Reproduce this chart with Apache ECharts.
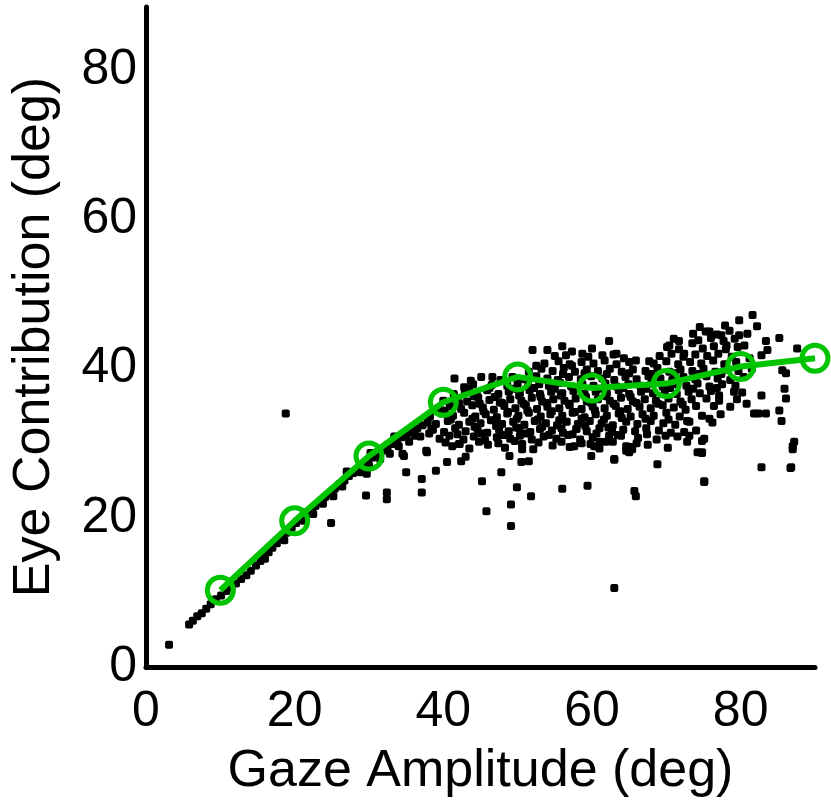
<!DOCTYPE html>
<html>
<head>
<meta charset="utf-8">
<script src="https://cdn.jsdelivr.net/npm/echarts@6/dist/echarts.min.js"></script>
<style>
html,body{margin:0;padding:0;background:#fff;}
#chart{width:831px;height:806px;}
</style>
</head>
<body>
<div id="chart"></div>
<script>
// Mean eye contribution per gaze-amplitude bin (green line)
var gazeBins = [10, 20, 30, 40, 50, 60, 70, 80, 90];
var eyeMeans = [10.3, 19.6, 28.3, 35.5, 38.9, 37.4, 38.0, 40.3, 41.4];

// Individual saccades along the small-amplitude diagonal band
var bandPoints = [
  [3.1,3.0],[5.8,5.7],[6.3,6.2],[6.9,6.8],[7.5,7.2],[8.1,7.8],[8.7,8.4],[9.4,9.1],[10.1,9.6],[10.8,10.2],
  [11.5,10.7],[12.1,11.2],[12.8,11.8],[13.5,12.3],[14.1,12.9],[14.8,13.6],[15.4,14.2],[15.9,14.8],[16.5,15.4],
  [17.0,16.0],[17.6,16.6],[18.3,17.4],[18.9,18.0],[19.6,18.7],[20.2,19.3],[20.9,19.9],[21.5,20.4],[22.2,21.0],
  [22.8,21.6],[23.5,22.2],[24.1,22.8],[24.8,23.3],[25.4,23.9],[26.0,24.5],[26.7,25.0],[27.3,25.6],[27.9,26.0],
  [28.6,26.6],[29.2,27.2],[29.9,27.6],[30.5,28.1],[31.2,28.6],[31.8,29.0],[32.5,29.5],[33.1,29.9],[33.8,30.4],
  [34.4,30.8],[35.1,31.2],[35.8,31.6],[36.5,32.0],[37.2,32.4],[37.9,32.8],
  [16.0,14.5],[18.6,17.0],[21.2,19.6],[23.8,21.9],[26.4,24.2],[28.9,26.1],[31.5,27.9],[34.0,29.6],[36.2,31.0],[38.4,31.9],
  [27.0,26.2],[30.2,28.7],[33.4,30.9],[35.4,30.2],[36.9,30.9],[32.8,28.6],[30.0,27.0],[25.2,22.9],[22.5,20.5]
];

// Sparse saccades around the main cloud
var sparsePoints = [
  [18.8,34.0],[24.9,19.3],[29.6,23.0],[32.4,23.4],[32.4,22.5],[35.0,26.1],[37.1,25.2],[37.1,23.4],[39.0,26.3],
  [37.7,29.0],[29.7,25.9],[34.7,28.3],[38.1,31.3],[34.5,28.6],[37.8,28.8],[42.4,27.6],[45.2,24.9],[47.8,26.1],
  [49.9,24.1],[49.1,21.8],[45.8,20.9],[49.1,18.9],[51.8,22.9],[50.5,27.5],[56.0,23.9],[59.4,24.3],[63.0,27.8],
  [65.7,23.6],[65.9,22.9],[68.8,27.2],[65.0,28.8],[74.8,28.7],[75.1,24.8],[82.8,26.8],[86.7,26.7],[87.0,29.6],
  [63.0,10.6],[42.1,29.9],[50.6,29.2],[59.9,28.3],[61.0,30.2],[65.4,29.2],[74.8,30.3],[48.9,28.3],[51.5,27.6],
  [43.0,28.2],[40.5,27.5],
  [52.0,42.5],[54.0,42.5],[56.0,43.0],[56.5,41.8],[41.5,38.7],[43.7,38.4],[45.1,38.9],[46.6,38.9],[52.5,40.4],
  [57.3,40.4],[62.3,43.7],[65.9,41.1],[67.7,41.0],[57.3,42.3],[58.7,42.0],[61.4,41.8],[63.3,42.0],[64.3,41.4],
  [70.4,43.1],[71.7,43.7],[73.5,43.4],[72.4,42.0],
  [81.6,47.2],[79.8,46.5],[82.2,45.7],[80.9,44.7],[83.4,43.7],[85.2,44.1],[87.6,42.7],[75.8,45.0],[77.4,44.5],
  [78.1,43.1],[79.8,44.5],[80.5,43.1],[81.2,41.4],[82.8,41.8],[83.6,42.5],[86.1,39.4],[85.9,37.3],[86.1,36.0],
  [82.8,36.4],[80.8,35.3],[81.8,34.0],[83.4,34.0],[82.4,34.0],[85.2,34.4],[85.5,33.0],[79.1,36.9],[77.1,36.4],
  [76.4,35.0],[75.4,36.0],[74.0,35.0],[74.8,33.7],[75.8,33.3],[74.0,31.7],[75.1,30.6],[74.8,28.8],[75.1,24.9],
  [87.2,30.2],[87.0,29.2],[86.8,26.8],[73.1,32.9],[73.1,31.0],[85.6,39.8],[72.4,31.5],[72.8,30.2],[64.6,29.0],
  [61.9,30.2],[57.9,31.9],[57.6,29.6],[60.3,29.6],[62.3,31.0],[63.0,27.9],[65.3,29.5],[74.2,28.8]
];

// Dense cloud of large-amplitude saccades
var cloudPoints = [
  [41.2,29.6],[43.5,29.3],[46.0,29.8],[48.3,29.4],[50.6,29.9],[52.1,29.2],[54.7,29.7],[57.0,29.5],[59.8,29.9],[61.0,29.3],[64.6,29.6],[67.5,29.8],[70.2,29.4],
  [39.5,30.6],[40.8,31.0],[42.7,30.5],[44.1,30.9],[45.6,30.4],[47.2,30.8],[49.0,30.6],[50.3,31.0],[51.9,30.5],[53.5,30.9],[55.2,30.6],[56.8,31.1],[58.4,30.5],[60.1,30.8],[62.3,30.6],[63.9,31.0],[66.2,30.7],[68.7,30.5],[71.5,30.9],
  [38.6,31.8],[40.1,31.5],[41.6,32.0],[43.0,31.6],[44.6,31.9],[45.9,31.4],[47.5,31.8],[48.8,31.6],[50.2,32.0],[51.7,31.5],[53.0,31.9],[54.6,31.7],[56.1,31.4],[57.9,31.9],[59.3,31.6],[61.0,32.0],[62.7,31.5],[64.2,31.8],[65.8,31.6],[67.3,32.0],[69.0,31.7],[70.6,31.4],
  [39.0,32.6],[40.6,33.0],[42.1,32.5],[43.5,32.9],[45.0,32.7],[46.4,33.1],[47.9,32.6],[49.4,32.9],[50.9,32.5],[52.3,33.0],[53.8,32.7],[55.3,32.4],[56.6,32.9],[58.1,32.6],[59.7,33.0],[61.3,32.7],[62.8,32.4],[64.6,32.9],[66.1,32.6],[67.9,33.0],[69.6,32.7],[71.2,32.5],[76.2,32.8],
  [38.2,33.6],[39.8,34.0],[41.3,33.7],[42.8,34.1],[44.3,33.6],[45.7,33.9],[47.2,33.5],[48.6,34.0],[50.1,33.7],[51.5,34.1],[53.1,33.6],[54.4,33.9],[56.0,33.7],[57.4,34.1],[59.0,33.5],[60.5,33.9],[62.0,33.7],[63.6,34.0],[65.2,33.6],[66.8,33.9],[68.3,33.7],[70.0,34.1],[71.8,33.6],[77.3,33.9],
  [39.3,34.7],[40.9,35.0],[42.4,34.6],[43.9,35.1],[45.3,34.8],[46.8,34.5],[48.2,35.0],[49.7,34.7],[51.1,35.1],[52.6,34.6],[54.0,34.9],[55.6,34.7],[57.0,35.1],[58.6,34.6],[60.1,34.9],[61.7,34.7],[63.2,35.0],[64.8,34.6],[66.4,34.9],[67.9,34.7],[69.5,35.1],[71.0,34.8],[72.6,34.5],[78.6,34.9],
  [40.0,35.7],[41.7,36.0],[43.2,35.6],[44.7,36.1],[46.2,35.8],[47.6,35.5],[49.0,35.9],[50.5,35.7],[51.9,36.1],[53.3,35.6],[54.8,35.9],[56.3,35.7],[57.8,36.0],[59.3,35.6],[60.8,35.9],[62.4,35.7],[63.9,36.1],[65.5,35.6],[67.1,35.9],[68.6,35.7],[70.3,36.0],[71.9,35.6],[73.4,35.9],[77.1,35.7],[79.5,35.9],
  [41.4,36.6],[42.9,37.0],[44.5,36.7],[45.9,37.1],[47.4,36.6],[48.8,36.9],[50.3,36.7],[51.6,37.1],[53.0,36.6],[54.5,36.9],[56.0,36.7],[57.5,37.0],[59.0,36.6],[60.5,36.9],[62.0,36.7],[63.6,37.1],[65.0,36.6],[66.6,36.9],[68.2,36.7],[69.8,37.0],[71.4,36.6],[73.0,36.9],[74.5,36.7],[76.0,37.0],[80.2,36.8],
  [42.8,37.5],[44.0,37.9],[46.5,37.8],[48.6,37.7],[50.0,38.0],[51.4,37.6],[52.9,37.9],[54.2,37.7],[55.7,38.1],[57.2,37.6],[58.7,37.9],[60.2,37.7],[61.8,38.0],[63.3,37.6],[64.9,37.9],[66.5,37.7],[68.0,38.0],[69.5,37.6],[71.1,37.9],[72.7,37.7],[74.2,38.0],[75.8,37.6],[77.5,37.9],[79.3,37.7],
  [47.7,38.5],[49.3,38.9],[51.0,38.6],[52.5,39.0],[54.0,38.7],[55.4,38.5],[56.9,38.9],[58.5,38.6],[59.9,39.0],[61.4,38.7],[63.0,38.5],[64.5,38.9],[66.0,38.6],[67.6,39.0],[69.2,38.7],[70.8,38.5],[72.3,38.9],[73.9,38.6],[75.4,39.0],[76.9,38.7],[78.6,38.5],[80.4,38.9],
  [51.5,39.6],[53.2,40.0],[54.7,39.7],[56.2,40.1],[57.7,39.6],[59.3,39.9],[60.8,39.7],[62.4,40.0],[64.0,39.6],[65.5,39.9],[67.2,39.7],[68.8,40.1],[70.4,39.6],[71.9,39.9],[73.5,39.7],[75.0,40.0],[76.6,39.6],[78.2,39.9],[79.7,39.7],[81.5,40.0],
  [53.6,40.7],[55.5,41.0],[57.0,40.6],[58.6,40.9],[60.2,40.7],[61.7,41.1],[63.3,40.6],[65.0,40.9],[68.3,40.7],[70.0,41.0],[71.6,40.6],[73.2,40.9],[74.7,40.7],[76.3,41.1],[77.8,40.6],[79.4,40.9],
  [55.0,41.7],[59.5,41.6],[62.9,41.9],[69.1,41.7],[70.7,42.0],[72.3,41.6],[73.9,41.9],[75.5,41.7],[77.0,42.0],[78.8,41.6],
  [60.0,42.7],[70.1,42.9],[71.7,42.6],[74.9,42.7],[76.4,43.0],[78.0,42.6],[79.6,42.9],
  [71.0,44.0],[74.3,43.8],[76.0,44.1],[77.7,43.7],[79.2,44.0],
  [73.6,44.7],[75.3,45.0],[76.8,44.6],[78.5,45.1],[74.5,45.6],[77.9,45.8],
  [44.2,32.2],[47.1,32.3],[49.8,32.1],[53.3,32.2],[55.9,32.0],[59.1,32.3],[62.2,32.1],
  [45.4,34.3],[48.7,34.2],[51.3,34.4],[54.6,34.3],[57.7,34.2],[60.4,34.4],[63.8,34.3],
  [44.1,36.3],[46.9,36.2],[50.2,36.4],[53.1,36.2],[55.8,36.4],[59.2,36.2],[61.9,36.3],[65.2,36.2],
  [40.3,30.1],[42.2,29.9],[44.8,30.2],[47.4,30.0],[49.6,30.3],[52.8,30.1],[55.9,30.2],[58.6,30.0],[62.8,30.2],[66.0,30.0],
  [41.9,31.2],[45.1,31.3],[48.1,31.1],[51.0,31.3],[54.2,31.1],[57.4,31.2],[60.6,31.3],[63.5,31.1],[67.4,31.2],[69.9,31.0],
  [41.0,33.2],[43.9,33.3],[46.9,33.1],[49.9,33.3],[52.7,33.2],[55.6,33.1],[58.6,33.3],[61.6,33.2],[64.0,33.4],[67.2,33.3],[70.3,33.2],[72.8,33.0],
  [40.2,34.4],[42.1,35.4],[44.9,35.3],[47.9,35.4],[50.8,35.3],[53.9,35.4],[56.9,35.3],[59.9,35.4],[62.9,35.3],[66.0,35.4],[68.9,35.3],[72.2,35.2],
  [43.5,37.3],[46.2,37.4],[49.4,37.3],[52.2,37.4],[55.0,37.3],[58.1,37.4],[61.1,37.3],[64.2,37.4],[67.3,37.3],[70.5,37.4],[73.6,37.3],[76.8,37.4],
  [56.1,39.3],[59.0,39.4],[62.0,39.3],[65.0,39.4],[68.0,39.3],[71.1,39.4],[74.3,39.3],[77.4,39.3]
];

var xTicks = [0, 20, 40, 60, 80];
var yTicks = [0, 20, 40, 60, 80];

var scatterData = bandPoints.concat(sparsePoints, cloudPoints);
var lineData = gazeBins.map(function (g, i) { return [g, eyeMeans[i]]; });

var green = '#00c400';
var font = 'Liberation Sans, Arial, Helvetica, sans-serif';

var chart = echarts.init(document.getElementById('chart'), null, { renderer: 'canvas' });
chart.setOption({
  animation: false,
  backgroundColor: '#ffffff',
  grid: { left: 146, right: 16, top: 7, bottom: 139, containLabel: false },
  xAxis: {
    type: 'value', min: 0, max: 90, interval: 20,
    name: 'Gaze Amplitude (deg)', nameLocation: 'middle', nameGap: 79,
    nameTextStyle: { fontSize: 52, color: '#000', fontFamily: font },
    axisLine: { show: true, onZero: false, lineStyle: { color: '#000', width: 5 } },
    axisTick: { show: false }, splitLine: { show: false },
    axisLabel: {
      fontSize: 50, color: '#000', fontFamily: font, margin: 20, showMaxLabel: false,
      formatter: function (v) { return xTicks.indexOf(v) >= 0 ? String(v) : ''; }
    }
  },
  yAxis: {
    type: 'value', min: 0, max: 88.5, interval: 20,
    name: 'Eye Contribution (deg)', nameLocation: 'middle', nameGap: 85,
    nameTextStyle: { fontSize: 52, color: '#000', fontFamily: font },
    axisLine: { show: true, onZero: false, lineStyle: { color: '#000', width: 5 } },
    axisTick: { show: false }, splitLine: { show: false },
    axisLabel: {
      fontSize: 50, color: '#000', fontFamily: font, margin: 9, showMaxLabel: false,
      formatter: function (v) { return yTicks.indexOf(v) >= 0 ? String(v) : ''; }
    }
  },
  series: [
    {
      type: 'scatter', data: scatterData, symbol: 'roundRect', symbolSize: 8,
      itemStyle: { color: '#000', opacity: 1 }, z: 2, silent: true
    },
    {
      type: 'line', data: lineData, symbol: 'circle', symbolSize: 26, showAllSymbol: true,
      lineStyle: { color: green, width: 6 },
      itemStyle: { color: 'rgba(255,255,255,0)', borderColor: green, borderWidth: 5, opacity: 1 },
      z: 3, silent: true
    }
  ]
});
</script>
</body>
</html>
